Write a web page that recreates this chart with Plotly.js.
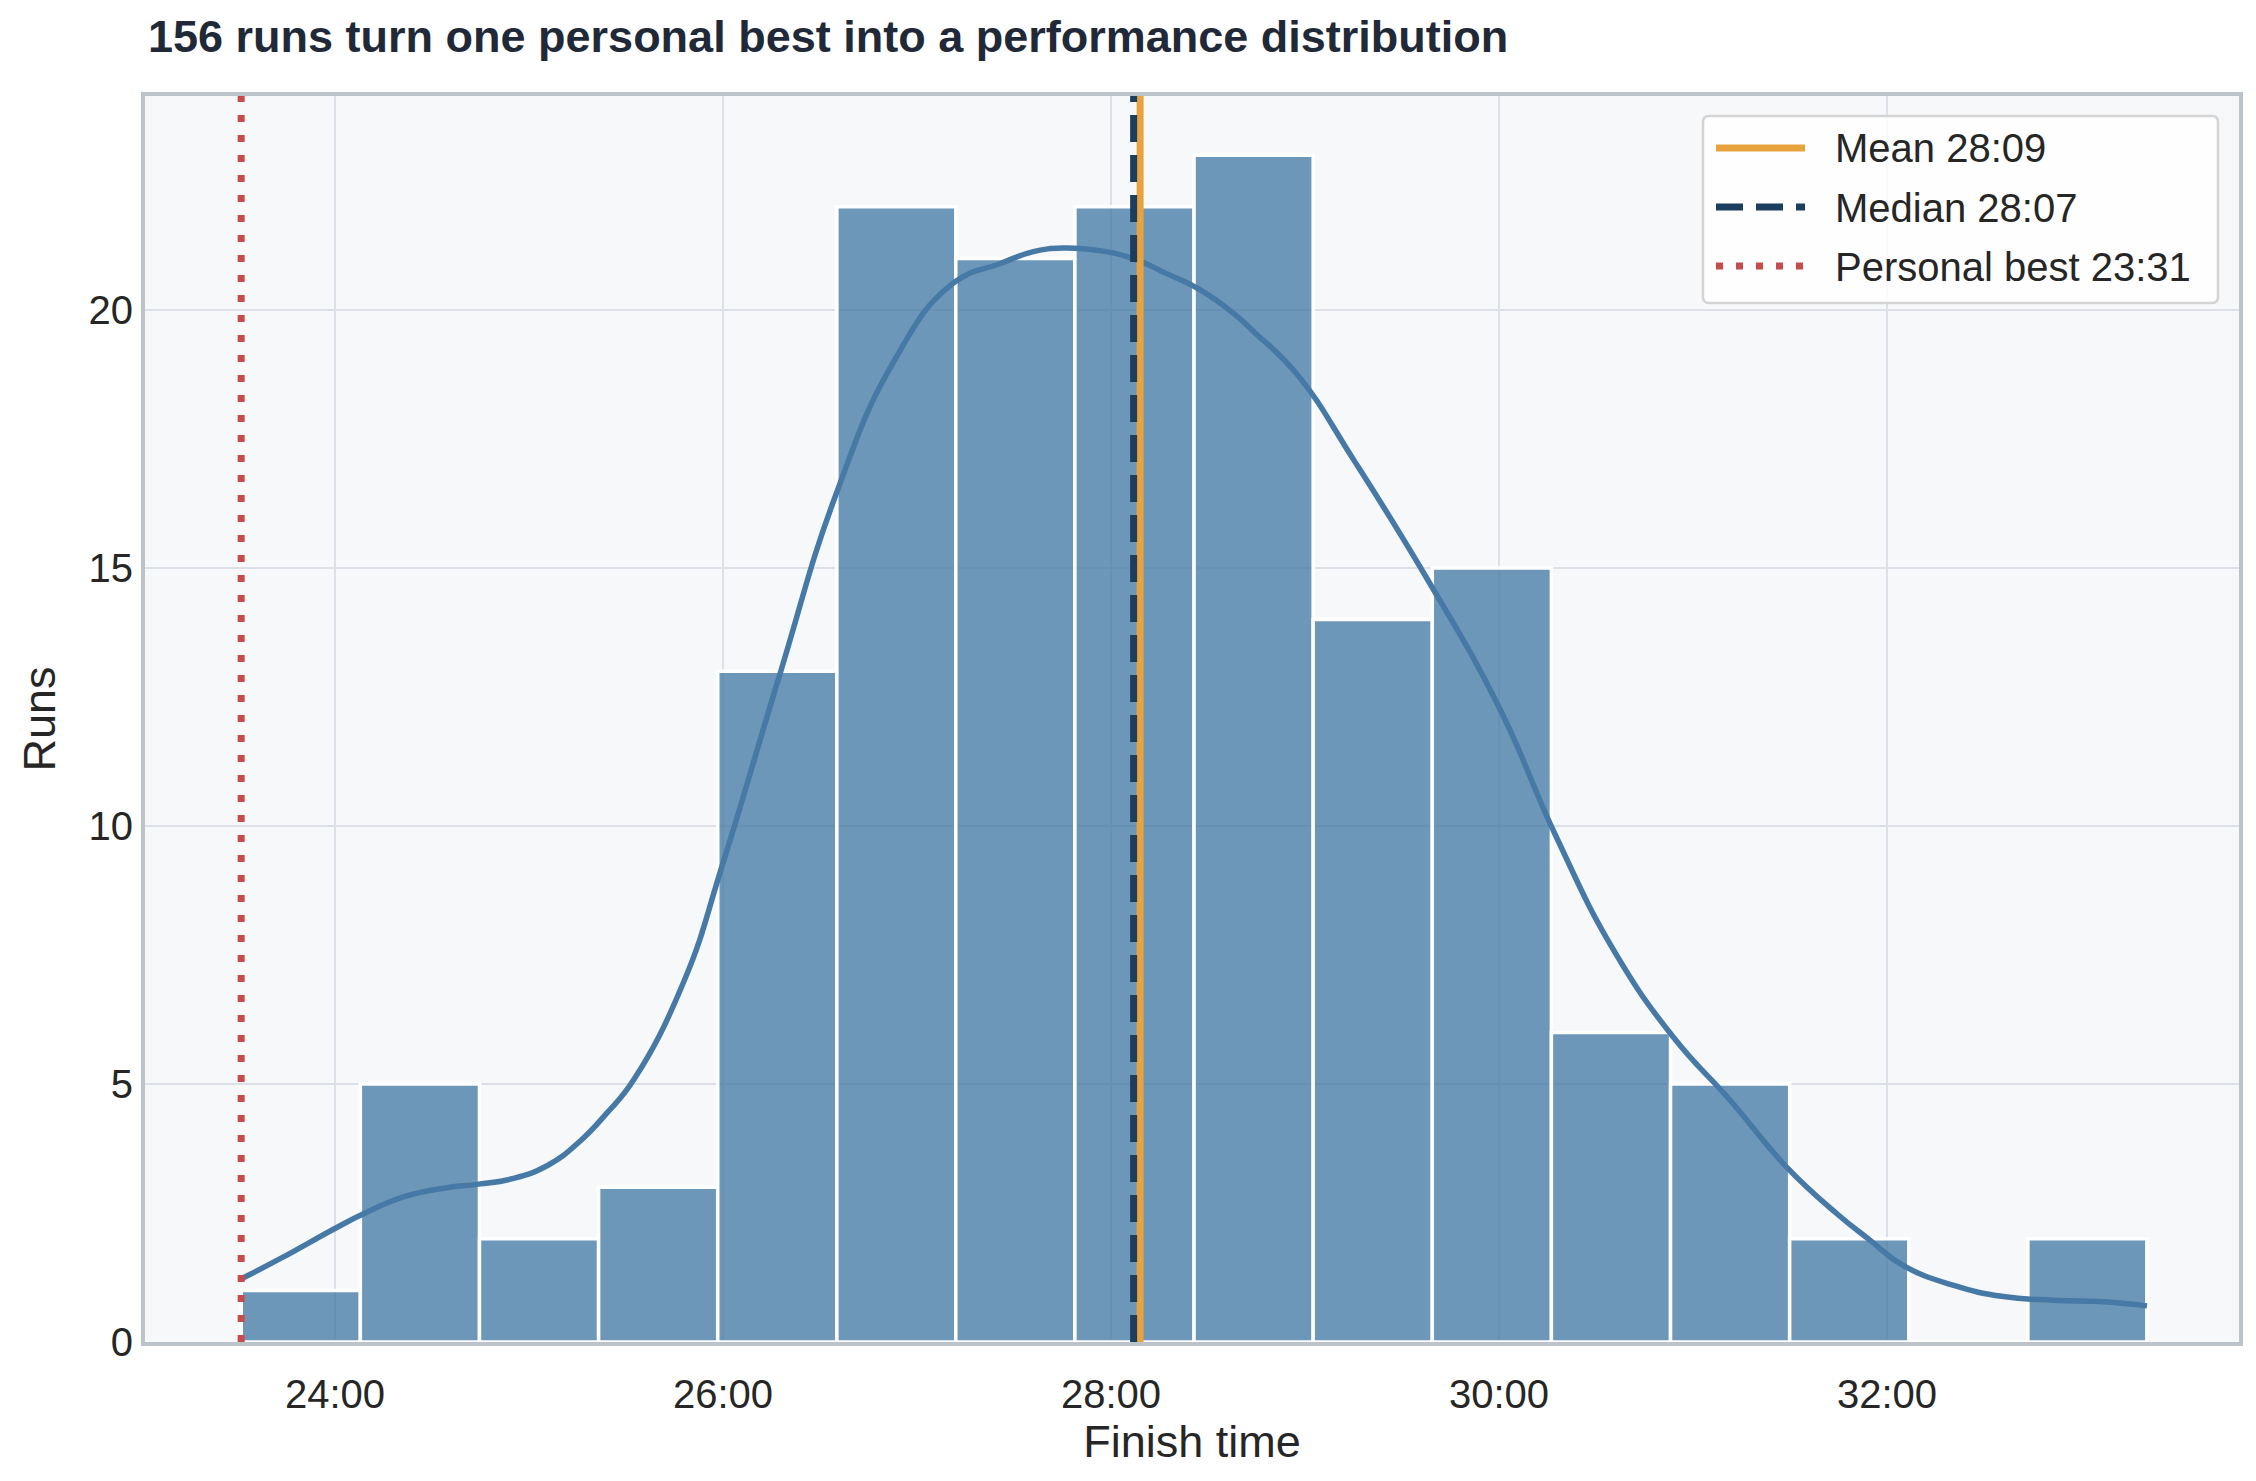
<!DOCTYPE html>
<html>
<head>
<meta charset="utf-8">
<script src="https://cdn.plot.ly/plotly-3.0.1.min.js"></script>
<style>
  html, body { margin: 0; padding: 0; background: #ffffff; }
  #chart { width: 2256px; height: 1481px; }
</style>
</head>
<body>
<div id="chart"></div>
<script>
// finish-time histogram, minutes on the x axis
var binEdges = [23.517, 24.131, 24.745, 25.359, 25.973, 26.587, 27.200, 27.814, 28.428,
                29.042, 29.656, 30.270, 30.884, 31.498, 32.112, 32.726, 33.339];
var runCounts = [1, 5, 2, 3, 13, 22, 21, 22, 23, 14, 15, 6, 5, 2, 0, 2];

// density curve, scaled to counts
var kdeX = [23.52, 23.72, 24.00, 24.15, 24.36, 24.56, 24.74, 24.92, 25.10, 25.26, 25.40,
            25.54, 25.80, 26.00, 26.29, 26.58, 26.88, 27.18, 27.43, 27.60, 27.75, 27.94,
            28.11, 28.29, 28.46, 28.63, 28.73, 28.96, 29.25, 29.62, 30.00, 30.29, 30.59,
            30.90, 31.19, 31.48, 31.74, 31.91, 32.08, 32.34, 32.60, 32.86, 33.12, 33.34];
var kdeY = [1.23, 1.62, 2.20, 2.49, 2.82, 2.98, 3.06, 3.17, 3.43, 3.88, 4.43,
            5.08, 7.00, 9.28, 12.9, 16.4, 19.0, 20.5, 20.9, 21.13, 21.2, 21.15,
            21.0, 20.7, 20.39, 19.94, 19.6, 18.75, 17.1, 14.85, 12.3, 9.83, 7.6,
            5.9, 4.69, 3.40, 2.49, 1.98, 1.49, 1.10, 0.88, 0.81, 0.78, 0.70];

var meanTime = 28 + 9 / 60;
var medianTime = 28 + 7 / 60;
var bestTime = 23 + 31 / 60;

var tickVals = [24, 26, 28, 30, 32];
var tickText = ['24:00', '26:00', '28:00', '30:00', '32:00'];

var legendLabels = ['Mean 28:09', 'Median 28:07', 'Personal best 23:31'];

var font = 'Liberation Sans, Arial, Helvetica, sans-serif';
var blue = '#4679a5';
var meanColor = '#e8a33d';
var medianColor = '#1b3d5e';
var bestColor = '#c84b4b';

var centers = [], widths = [];
for (var i = 0; i < runCounts.length; i++) {
	centers.push((binEdges[i] + binEdges[i + 1]) / 2);
	widths.push(binEdges[i + 1] - binEdges[i]);
}

var bars = {
	x: centers,
	y: runCounts,
	width: widths,
	type: 'bar',
	marker: {
		color: 'rgba(66,119,163,0.76)',
		line: {color: '#ffffff', width: 3.5}
	},
	hoverinfo: 'skip',
	showlegend: false
};

var kde = {
	x: kdeX,
	y: kdeY,
	type: 'scatter',
	mode: 'lines',
	line: {color: blue, width: 5.5, shape: 'spline', smoothing: 1.3},
	hoverinfo: 'skip',
	showlegend: false
};

function vline(x, color, dash) {
	return {
		type: 'line', xref: 'x', yref: 'paper',
		x0: x, x1: x, y0: 0, y1: 1,
		line: {color: color, width: 7, dash: dash}
	};
}

// legend drawn by hand: box + samples in pixel offsets from the plot's top-right corner
var box = 'M -530,-20 L -27,-20 Q -21,-20 -21,-26 L -21,-201 Q -21,-207 -27,-207 ' +
          'L -530,-207 Q -536,-207 -536,-201 L -536,-26 Q -536,-20 -530,-20 Z';

var legendRows = [-52, -111, -170];
var legendStyles = [[meanColor, 'solid'], [medianColor, '27px,13px'], [bestColor, '7px,13px']];

var shapes = [
	vline(bestTime, bestColor, '7px,13px'),
	vline(meanTime, meanColor, 'solid'),
	vline(medianTime, medianColor, '27px,13px'),
	{
		type: 'path', xref: 'paper', yref: 'paper',
		xsizemode: 'pixel', ysizemode: 'pixel', xanchor: 1, yanchor: 1,
		path: box,
		fillcolor: 'rgba(255,255,255,0.82)',
		line: {color: '#d4d4d4', width: 2.5}
	}
];

var annotations = [];
var textY = [0.9583, 0.9100, 0.8630];
for (var k = 0; k < legendLabels.length; k++) {
	shapes.push({
		type: 'line', xref: 'paper', yref: 'paper',
		xsizemode: 'pixel', ysizemode: 'pixel', xanchor: 1, yanchor: 1,
		x0: -523, x1: -434, y0: legendRows[k], y1: legendRows[k],
		line: {color: legendStyles[k][0], width: 7, dash: legendStyles[k][1]}
	});
	annotations.push({
		xref: 'paper', yref: 'paper',
		x: 0.8060, y: textY[k],
		xanchor: 'left', yanchor: 'middle',
		text: legendLabels[k],
		showarrow: false,
		font: {family: font, size: 40, color: '#262626'}
	});
}

var layout = {
	width: 2256,
	height: 1481,
	margin: {t: 96, b: 139, l: 145, r: 17},
	paper_bgcolor: '#ffffff',
	plot_bgcolor: '#f7f8fa',
	bargap: 0,
	title: {
		text: '156 runs turn one personal best into a performance distribution',
		x: 148 / 2256,
		xanchor: 'left',
		xref: 'container',
		y: 1 - 36 / 1481,
		yref: 'container',
		yanchor: 'middle',
		font: {family: font, size: 45, color: '#1f2937', weight: 'bold'}
	},
	xaxis: {
		range: [23.021, 33.814],
		tickvals: tickVals,
		ticktext: tickText,
		tickfont: {family: font, size: 40, color: '#262626'},
		ticks: '',
		ticklabelstandoff: 14,
		showgrid: true,
		gridcolor: '#dde1e7',
		gridwidth: 2,
		zeroline: false,
		showline: true,
		mirror: true,
		linecolor: '#bcc3cb',
		linewidth: 4,
		title: {
			text: 'Finish time',
			font: {family: font, size: 45, color: '#262626'},
			standoff: 4
		}
	},
	yaxis: {
		range: [0, 24.147],
		tickvals: [0, 5, 10, 15, 20],
		tickfont: {family: font, size: 40, color: '#262626'},
		ticks: '',
		showgrid: true,
		gridcolor: '#dde1e7',
		gridwidth: 2,
		zeroline: false,
		showline: true,
		mirror: true,
		linecolor: '#bcc3cb',
		linewidth: 4,
		title: {
			text: 'Runs',
			font: {family: font, size: 45, color: '#262626'},
			standoff: 20
		}
	},
	shapes: shapes,
	annotations: annotations
};

Plotly.newPlot('chart', [bars, kde], layout, {displayModeBar: false, staticPlot: true});
</script>
</body>
</html>
